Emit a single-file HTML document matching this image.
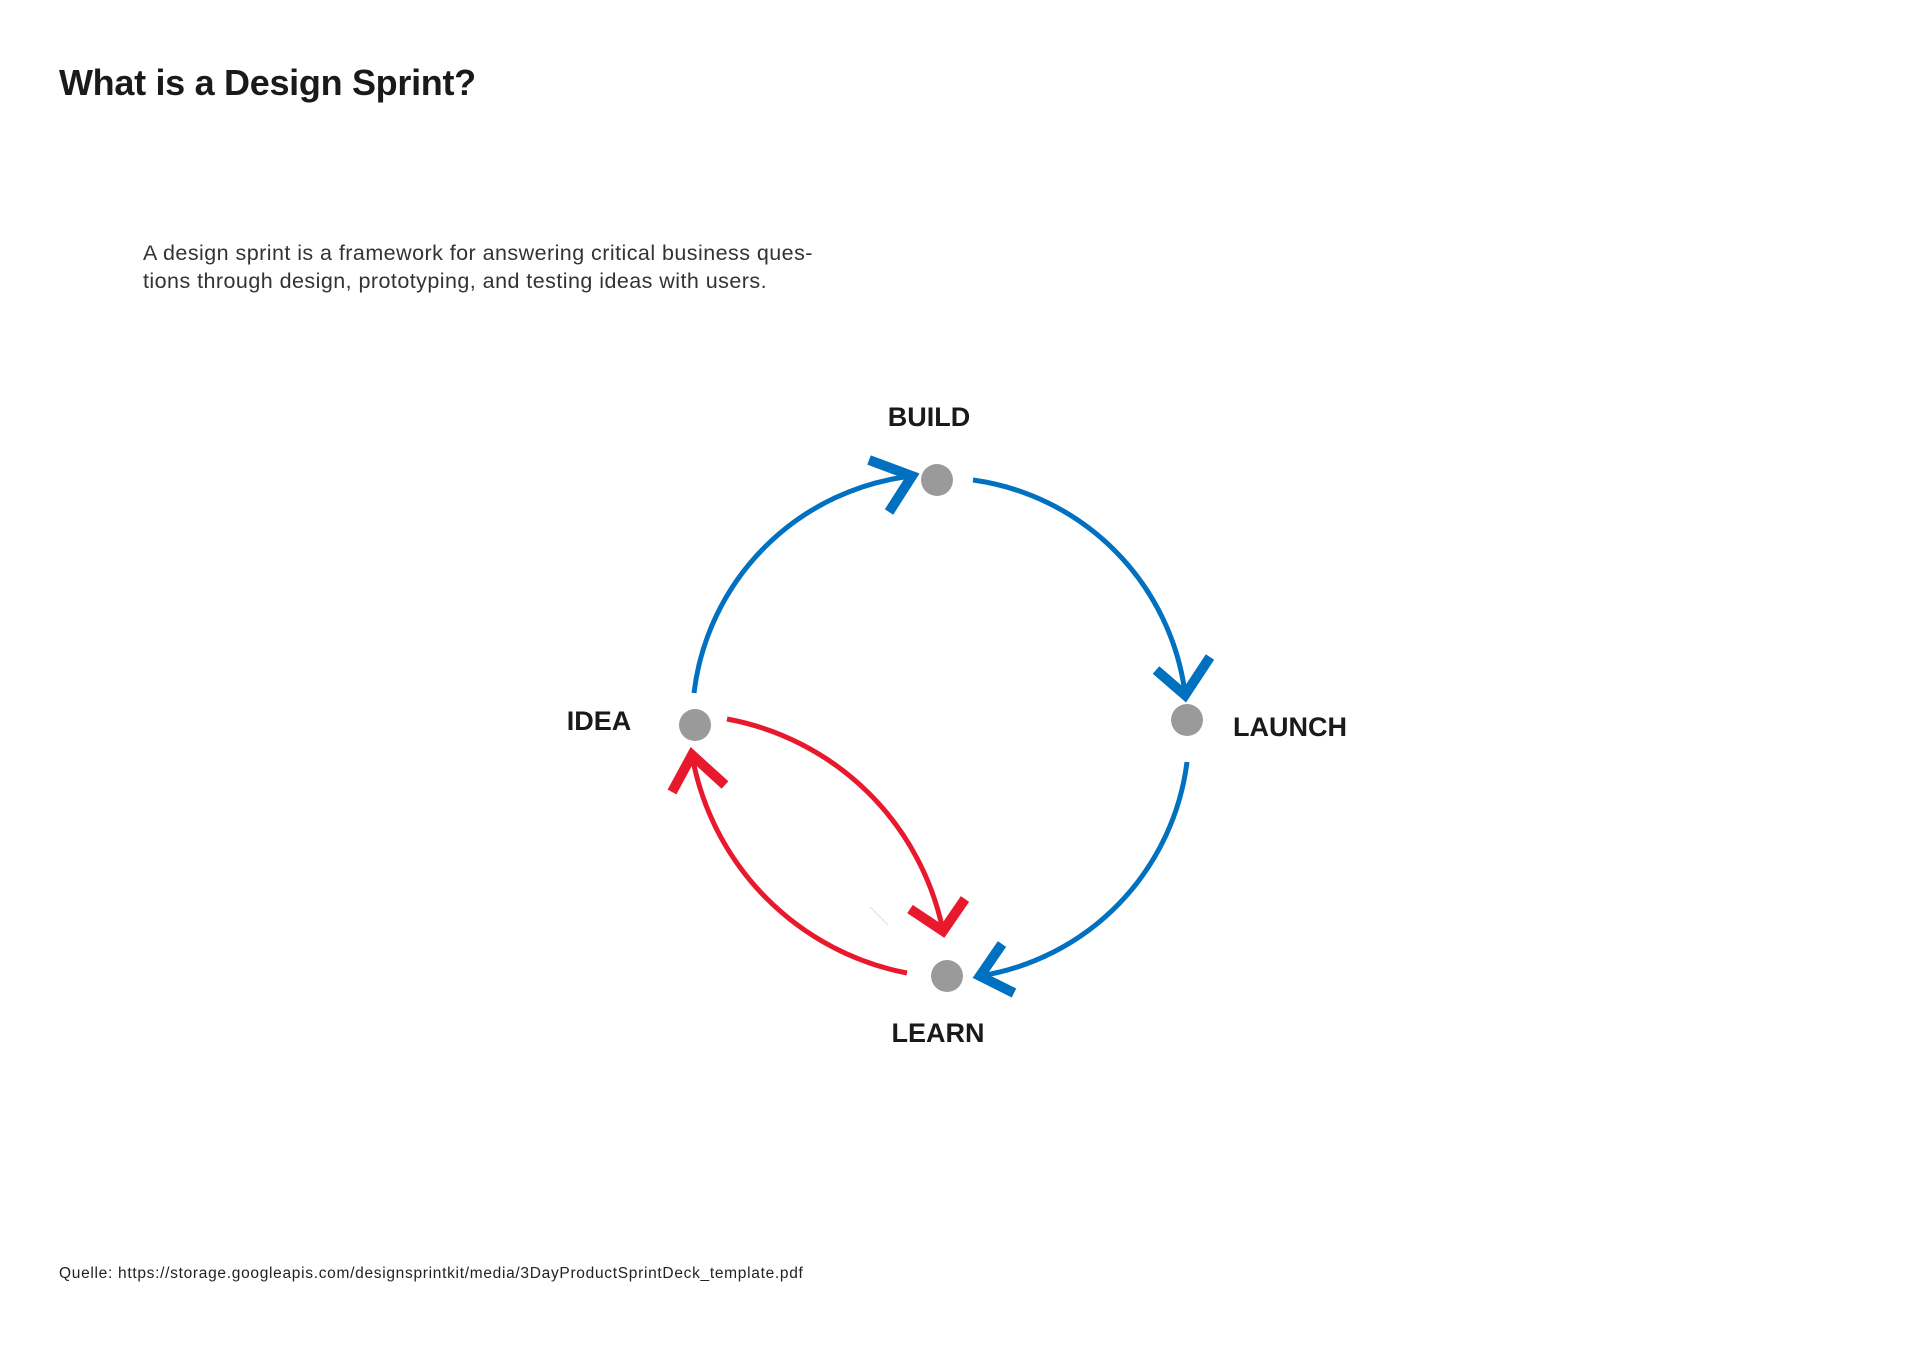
<!DOCTYPE html>
<html><head><meta charset="utf-8"><style>
html,body{margin:0;padding:0;background:#fff;}
body{width:1920px;height:1358px;position:relative;overflow:hidden;font-family:"Liberation Sans",sans-serif;color:#1a1a1a;}
.t{position:absolute;white-space:nowrap;}
</style></head><body>
<div class="t" style="left:59px;top:62px;font-size:36px;font-weight:bold;letter-spacing:-0.3px;">What is a Design Sprint?</div>
<div class="t" style="left:143px;top:239px;font-size:21.5px;line-height:28px;color:#333;letter-spacing:0.45px;">A design sprint is a framework for answering critical business ques-<br>tions through design, prototyping, and testing ideas with users.</div>
<div class="t" style="left:59px;top:1265px;font-size:15.5px;color:#222;letter-spacing:0.7px;">Quelle: https://storage.googleapis.com/designsprintkit/media/3DayProductSprintDeck_template.pdf</div>
<svg width="1920" height="1358" style="position:absolute;left:0;top:0" xmlns="http://www.w3.org/2000/svg">
<g fill="none" stroke-width="5">
<path d="M694 693 A248 248 0 0 1 912 476" stroke="#0070c0"/>
<path d="M973 480 A248 248 0 0 1 1185 693" stroke="#0070c0"/>
<path d="M1187 762 A248 248 0 0 1 980 976" stroke="#0070c0"/>
<path d="M727 719 A270 270 0 0 1 943 931" stroke="#e8192c"/>
<path d="M907 973 A270 270 0 0 1 692 755" stroke="#e8192c"/>
</g>
<g fill="none" stroke-width="10">
<polyline points="869,460 912,476 889,512" stroke="#0070c0"/>
<polyline points="1156,670 1185,695 1210,657" stroke="#0070c0"/>
<polyline points="1002,944 980,976 1014,993" stroke="#0070c0"/>
<polyline points="910,909 943,931 965,899" stroke="#e8192c"/>
<polyline points="672,792 692,755 725,785" stroke="#e8192c"/>
</g>
<line x1="870" y1="907" x2="888" y2="925" stroke="#ddd" stroke-width="1"/>
<g fill="#9a9a9a">
<circle cx="937" cy="480" r="16"/>
<circle cx="1187" cy="720" r="16"/>
<circle cx="695" cy="725" r="16"/>
<circle cx="947" cy="976" r="16"/>
</g>
<g font-family="Liberation Sans, sans-serif" font-weight="bold" font-size="27" fill="#1a1a1a">
<text x="929" y="426" text-anchor="middle">BUILD</text>
<text x="599" y="730" text-anchor="middle">IDEA</text>
<text x="1233" y="736">LAUNCH</text>
<text x="938" y="1042" text-anchor="middle">LEARN</text>
</g>
</svg>
</body></html>
